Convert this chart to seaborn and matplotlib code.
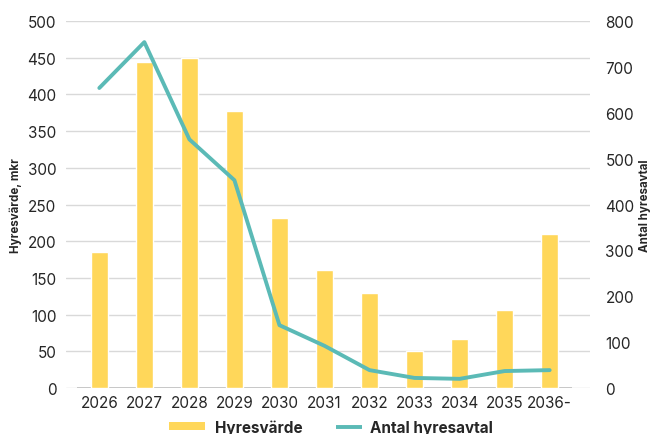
import matplotlib
matplotlib.use("Agg")
import matplotlib.pyplot as plt
import seaborn as sns
import pandas as pd
from matplotlib.patches import Patch
from matplotlib.lines import Line2D
from matplotlib.legend_handler import HandlerLine2D

years = ["2026", "2027", "2028", "2029", "2030", "2031", "2032", "2033", "2034", "2035", "2036-"]
hyresvarde = [185, 444, 450, 377, 232, 161, 129, 50, 67, 106, 210]
antal_avtal = [654, 754, 542, 453, 137, 92, 39, 22, 20, 37, 39]

bar_color = "#FFD75A"
line_color = "#5BBAB6"
text_color = "#262626"

sns.set_theme(style="white")
plt.rcParams["font.family"] = ["Inter", "DejaVu Sans"]

df = pd.DataFrame({"year": years, "hyresvarde": hyresvarde, "antal": antal_avtal})

fig = plt.figure(figsize=(6.52, 4.35), dpi=100)
ax = fig.add_axes([0.1012, 0.1057, 0.804, 0.8437])

sns.barplot(data=df, x="year", y="hyresvarde", color=bar_color, width=0.39,
            saturation=1, ax=ax, zorder=2)
ax.set_ylim(0, 500)
ax.set_xlim(-0.74, 10.9)
ax.set_yticks(range(0, 501, 50))
for v in range(0, 501, 50):
    ax.axhline(v, color="#d9d9d9", linewidth=1, zorder=0)
ax.hlines(0, -0.5, 10.5, color="#bfbfbf", linewidth=1.2, zorder=1)
for s in ["top", "right", "left", "bottom"]:
    ax.spines[s].set_visible(False)
ax.tick_params(axis="x", length=0, labelsize=11, colors=text_color, pad=5)
ax.tick_params(axis="y", length=0, labelsize=11, colors=text_color, pad=7)
ax.set_xlabel("")
ax.set_ylabel("Hyresvärde, mkr", fontsize=8.3, fontweight="bold", color=text_color, labelpad=4)

ax2 = ax.twinx()
sns.lineplot(x=list(range(len(years))), y=antal_avtal, color=line_color, linewidth=2.8,
             ax=ax2, zorder=3)
ax2.set_ylim(0, 800)
ax2.set_yticks(range(0, 801, 100))
for s in ["top", "right", "left", "bottom"]:
    ax2.spines[s].set_visible(False)
ax2.tick_params(axis="y", length=0, labelsize=11, colors=text_color, pad=11)
ax2.set_ylabel("Antal hyresavtal", fontsize=8.3, fontweight="bold", color=text_color, labelpad=3)
ax2.grid(False)


class ShortLineHandler(HandlerLine2D):
    """Legend line that is shorter than the patch handle and sits close to its label."""

    def create_artists(self, legend, orig_handle, xdescent, ydescent, width, height,
                       fontsize, trans):
        short = width * 0.74
        shift = (width - short) + 1
        return super().create_artists(legend, orig_handle, xdescent - shift, ydescent,
                                      short, height, fontsize, trans)


bar_handle = Patch(facecolor=bar_color, edgecolor="none")
line_handle = Line2D([0], [0], color=line_color, linewidth=2.8, solid_capstyle="butt")
fig.legend([bar_handle, line_handle], ["Hyresvärde", "Antal hyresavtal"], loc="center",
           bbox_to_anchor=(0.508, 0.016), ncol=2, frameon=False,
           prop={"weight": "bold", "size": 11}, handlelength=2.3,
           handleheight=0.45, handletextpad=0.65, columnspacing=1.5,
           handler_map={line_handle: ShortLineHandler()})

fig.savefig("out.png", dpi=100)
